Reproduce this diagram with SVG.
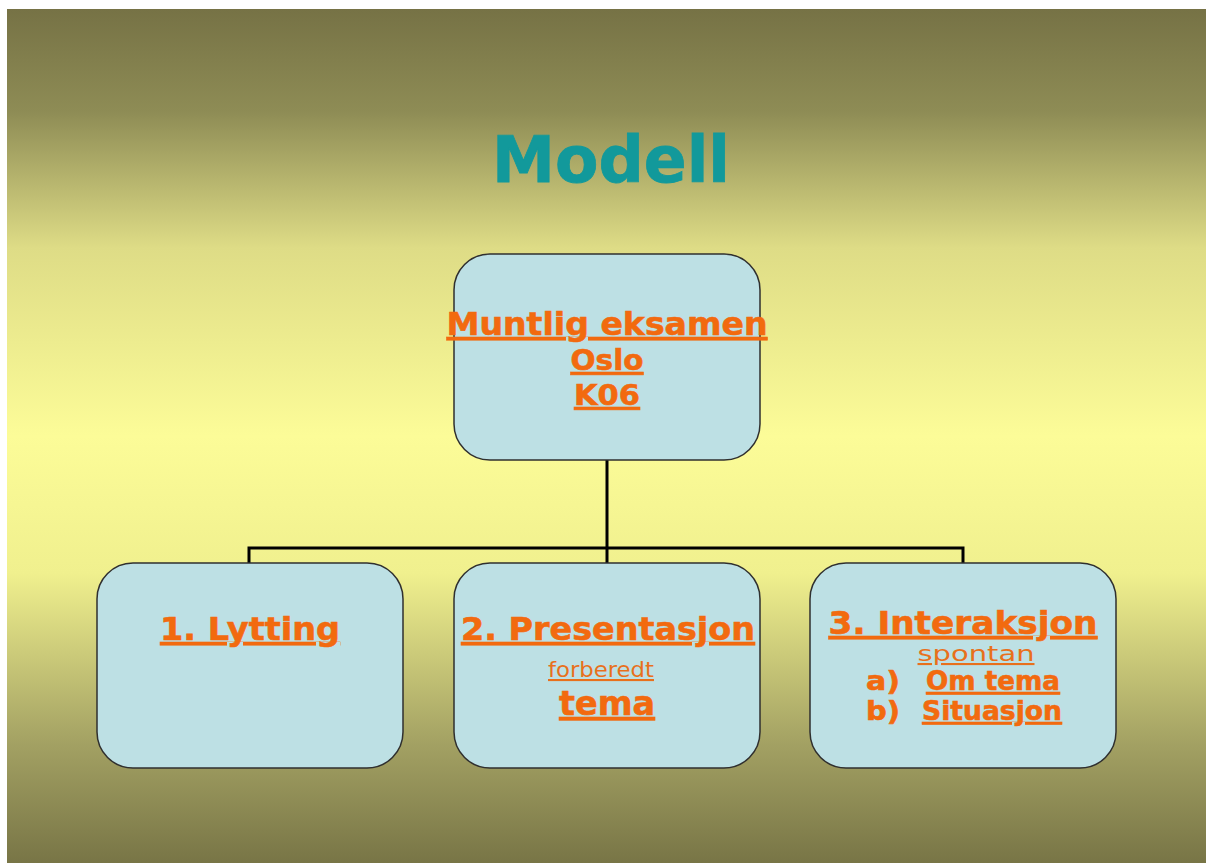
<svg xmlns="http://www.w3.org/2000/svg" width="1206" height="863" viewBox="0 0 1206 863">
<defs>
<linearGradient id="bg" x1="0" y1="0" x2="0" y2="1">
<stop offset="0" stop-color="#767245"/>
<stop offset="0.12" stop-color="#8e8c55"/>
<stop offset="0.28" stop-color="#dedc86"/>
<stop offset="0.5" stop-color="#fcfc98"/>
<stop offset="0.66" stop-color="#f0f08e"/>
<stop offset="0.86" stop-color="#a3a163"/>
<stop offset="1" stop-color="#787546"/>
</linearGradient>
<style>
.box{fill:#bde0e4;stroke:#2f2f2f;stroke-width:1.5}
.conn{fill:none;stroke:#000;stroke-width:3}
.t{font-family:"DejaVu Sans",Verdana,sans-serif;fill:#f26a0f;text-anchor:middle;text-decoration:underline}
.b{font-weight:bold;stroke:#f26a0f;stroke-width:0.6}
.s{font-weight:normal;fill:#e8701c}
</style>
</defs>
<rect x="0" y="0" width="1206" height="863" fill="#ffffff"/>
<rect x="7" y="9" width="1199" height="854" fill="url(#bg)"/>
<text x="611" y="182" font-family="DejaVu Sans,Verdana,sans-serif" font-weight="bold" font-size="64" fill="#12999b" stroke="#12999b" stroke-width="0.8" text-anchor="middle" textLength="238" lengthAdjust="spacingAndGlyphs">Modell</text>
<g id="connectors">
<path class="conn" d="M607 460 V563 M249 563 V548 H963 V563"/>
</g>
<g id="root">
<rect class="box" x="454" y="254" width="306" height="206" rx="36"/>
<text class="t b" x="607" y="335" font-size="32" textLength="321" lengthAdjust="spacingAndGlyphs">Muntlig eksamen</text>
<text class="t b" x="607" y="370" font-size="29" textLength="73" lengthAdjust="spacingAndGlyphs">Oslo</text>
<text class="t b" x="607" y="405" font-size="29" textLength="66" lengthAdjust="spacingAndGlyphs">K06</text>
</g>
<g id="lytting">
<rect class="box" x="97" y="563" width="306" height="205" rx="36"/>
<text class="t b" x="250" y="640" font-size="32" textLength="180" lengthAdjust="spacingAndGlyphs">1. Lytting</text>
</g>
<g id="presentasjon">
<rect class="box" x="454" y="563" width="306" height="205" rx="36"/>
<text class="t b" x="608" y="640" font-size="32" textLength="294" lengthAdjust="spacingAndGlyphs">2. Presentasjon</text>
<text class="t s" x="601" y="677" font-size="21" textLength="106" lengthAdjust="spacingAndGlyphs">forberedt</text>
<text class="t b" x="607" y="715" font-size="33" textLength="96" lengthAdjust="spacingAndGlyphs">tema</text>
</g>
<g id="interaksjon">
<rect class="box" x="810" y="563" width="306" height="205" rx="36"/>
<text class="t b" x="963" y="634" font-size="32" textLength="269" lengthAdjust="spacingAndGlyphs">3. Interaksjon</text>
<text class="t s" x="976" y="661" font-size="21" textLength="117" lengthAdjust="spacingAndGlyphs">spontan</text>
<text class="t b" x="883" y="690" font-size="26" style="text-decoration:none" textLength="34" lengthAdjust="spacingAndGlyphs">a)</text>
<text class="t b" x="993" y="690" font-size="26" textLength="134" lengthAdjust="spacingAndGlyphs">Om tema</text>
<text class="t b" x="883" y="720" font-size="26" style="text-decoration:none" textLength="34" lengthAdjust="spacingAndGlyphs">b)</text>
<text class="t b" x="992" y="720" font-size="26" textLength="140" lengthAdjust="spacingAndGlyphs">Situasjon</text>
</g>
</svg>
